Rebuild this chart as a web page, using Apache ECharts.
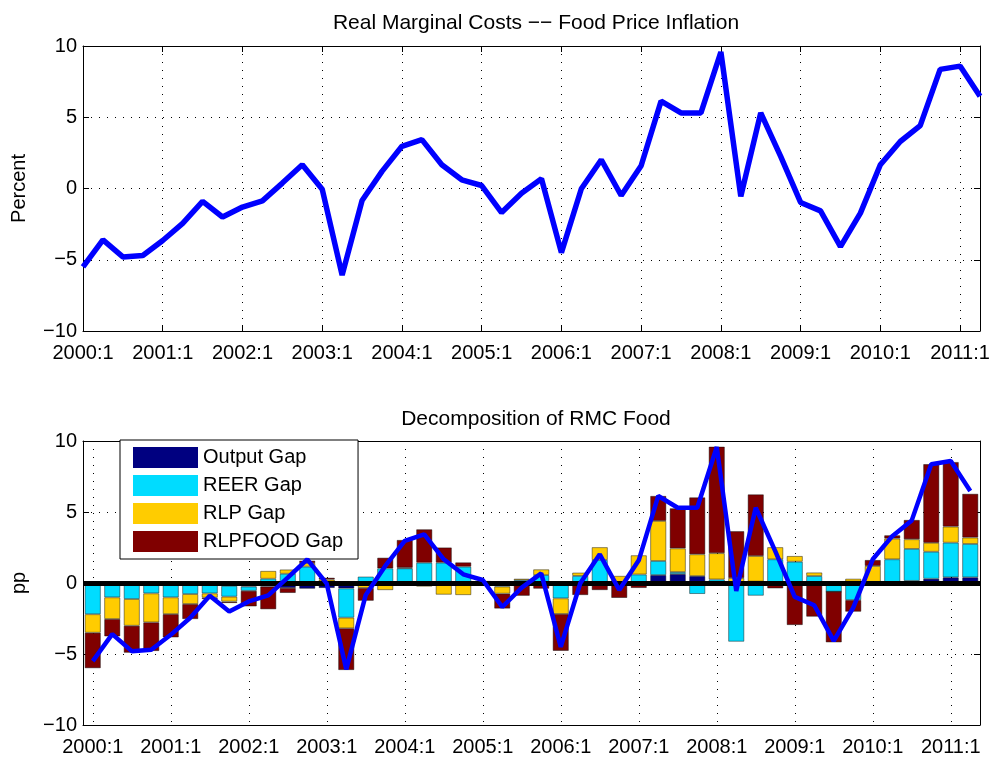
<!DOCTYPE html>
<html>
<head>
<meta charset="utf-8">
<script src="https://cdn.jsdelivr.net/npm/echarts@6/dist/echarts.min.js"></script>
<style>
  html, body { margin: 0; padding: 0; background: #fff; }
  #chart { width: 995px; height: 758px; }
</style>
</head>
<body>
<div id="chart"></div>
<script>
// quarters 2000:1 .. 2011:2
const quarters = [];
for (let y = 2000; y <= 2011; y++) {
  for (let q = 1; q <= 4; q++) quarters.push(y + ':' + q);
}
quarters.length = 46;

const yTicks = [-10, -5, 0, 5, 10];

const rmcFood = [-5.5, -3.6, -4.8, -4.7, -3.65, -2.45, -0.9, -2.0, -1.3, -0.87,
  0.38, 1.67, -0.05, -6.08, -0.84, 1.2, 2.96, 3.43, 1.67, 0.61,
  0.21, -1.69, -0.33, 0.68, -4.5, -0.02, 2.02, -0.49, 1.6, 6.13,
  5.3, 5.3, 9.58, -0.56, 5.3, 2.25, -0.98, -1.57, -4.08, -1.73,
  1.67, 3.3, 4.41, 8.36, 8.59, 6.48];

const outputGap = [-0.05, -0.05, -0.05, -0.05, -0.05, -0.05, -0.05, -0.2, -0.25, -0.25,
  -0.35, -0.4, -0.35, -0.38, -0.1, -0.05, -0.1, -0.05, -0.05, -0.05,
  0, -0.05, 0, 0, 0, 0, 0, 0, 0, 0.56,
  0.63, 0.49, 0.05, 0.05, 0.1, 0.05, 0, 0, 0, 0.1,
  0, 0.05, 0.15, 0.3, 0.4, 0.4];

const reerGap = [-2.15, -0.96, -1.08, -0.68, -0.96, -0.73, -0.68, -0.76, -0.3, 0.3,
  0.65, 1.15, 0.1, -2.06, 0.45, 1.03, 1.03, 1.43, 1.43, 1.15,
  0.05, -0.2, 0.2, 0.56, -1.08, 0.5, 1.62, 0.05, 0.6, 0.99,
  0.14, -0.77, 0.2, -4.13, -0.89, 1.62, 1.5, 0.49, -0.61, -1.2,
  0.05, 1.62, 2.25, 1.9, 2.44, 2.35];

const rlpGap = [-1.3, -1.53, -1.88, -2.04, -1.18, -0.7, -0.3, -0.35, 0.1, 0.55,
  0.3, 0.25, 0.15, -0.75, -0.25, -0.45, 0.05, -0.2, -0.77, -0.8,
  0, -0.5, 0.1, 0.4, -1.1, 0.23, 0.9, 0.45, 1.35, 2.82,
  1.67, 1.53, 1.85, 0.3, 1.8, 0.85, 0.4, 0.25, 0, 0.2,
  1.15, 1.46, 0.68, 0.63, 1.13, 0.45];

const rlpFoodGap = [-2.5, -1.22, -1.9, -2.02, -1.64, -1.06, -0.1, -0.1, -1.1, -1.6,
  -0.35, 0.17, 0.12, -2.94, -0.9, 0.75, 1.95, 2.35, 1.07, 0.3,
  0.1, -1.05, -0.9, -0.4, -2.6, -0.85, -0.5, -1.05, -0.35, 1.76,
  2.82, 4.01, 7.5, 3.3, 4.34, -0.38, -2.96, -2.37, -3.57, -0.82,
  0.42, 0.23, 1.36, 5.54, 4.55, 3.08];

const FONT = '"Liberation Sans", Arial, Helvetica, sans-serif';
const everyYear = (i) => i % 4 === 0;
const dotted = { color: '#000', width: 1, type: [1, 7] };

function xAxisPair(grid, gap) {
  return [{
    type: 'category', gridIndex: grid, data: quarters, boundaryGap: gap,
    axisLine: { onZero: false, lineStyle: { color: '#000', width: 1 } },
    axisTick: { inside: true, length: 6, interval: everyYear, alignWithLabel: true, lineStyle: { color: '#000' } },
    axisLabel: { interval: everyYear, color: '#000', fontSize: 20, fontFamily: FONT, margin: 12 },
    splitLine: { show: true, interval: everyYear, alignWithLabel: true, lineStyle: dotted }
  }, {
    type: 'category', gridIndex: grid, data: quarters, boundaryGap: gap, position: 'top',
    axisLine: { onZero: false, lineStyle: { color: '#000', width: 1 } },
    axisTick: { inside: true, length: 6, interval: everyYear, alignWithLabel: true, lineStyle: { color: '#000' } },
    axisLabel: { show: false },
    splitLine: { show: false }
  }];
}

function yAxisPair(grid, name) {
  return [{
    type: 'value', gridIndex: grid, min: yTicks[0], max: yTicks[yTicks.length - 1], interval: 5,
    name: name, nameLocation: 'middle', nameGap: 54,
    nameTextStyle: { color: '#000', fontSize: 20, fontFamily: FONT },
    axisLine: { show: true, onZero: false, lineStyle: { color: '#000', width: 1 } },
    axisTick: { show: true, inside: true, length: 6, lineStyle: { color: '#000' } },
    axisLabel: {
      color: '#000', fontSize: 20, fontFamily: FONT, margin: 6,
      formatter: (v) => String(v).replace('-', '\u2212')
    },
    splitLine: { show: true, lineStyle: dotted }
  }, {
    type: 'value', gridIndex: grid, min: yTicks[0], max: yTicks[yTicks.length - 1], interval: 5,
    position: 'right',
    axisLine: { show: true, onZero: false, lineStyle: { color: '#000', width: 1 } },
    axisTick: { show: true, inside: true, length: 6, lineStyle: { color: '#000' } },
    axisLabel: { show: false },
    splitLine: { show: false }
  }];
}

function barSeries(name, data, color) {
  return {
    name: name, type: 'bar', xAxisIndex: 2, yAxisIndex: 2, stack: 'decomp',
    data: data, barWidth: '82%',
    itemStyle: { color: color, borderColor: 'rgba(0,0,0,0.55)', borderWidth: 0.8 },
    z: 2
  };
}

const chart = echarts.init(document.getElementById('chart'));
chart.setOption({
  animation: false,
  backgroundColor: '#fff',
  title: [
    { text: 'Real Marginal Costs \u2212\u2212 Food Price Inflation', left: 531, top: 8, textAlign: 'center',
      textStyle: { color: '#000', fontSize: 21, fontWeight: 'normal', fontFamily: FONT } },
    { text: 'Decomposition of RMC Food', left: 531, top: 404, textAlign: 'center',
      textStyle: { color: '#000', fontSize: 21, fontWeight: 'normal', fontFamily: FONT } }
  ],
  legend: {
    data: ['Output Gap', 'REER Gap', 'RLP Gap', 'RLPFOOD Gap'],
    orient: 'vertical', left: 120, top: 440,
    padding: [7, 15, 7, 13], itemWidth: 65, itemHeight: 21, itemGap: 7,
    backgroundColor: '#fff', borderColor: '#000', borderWidth: 1, borderRadius: 0,
    icon: 'rect',
    itemStyle: { borderWidth: 0 },
    textStyle: { color: '#000', fontSize: 20, fontFamily: FONT }
  },
  grid: [
    { left: 83, right: 15, top: 46, height: 285 },
    { left: 83, right: 15, top: 441, height: 284 }
  ],
  xAxis: [...xAxisPair(0, false), ...xAxisPair(1, true)],
  yAxis: [...yAxisPair(0, 'Percent'), ...yAxisPair(1, 'pp')],
  series: [
    {
      name: 'RMC Food', type: 'line', xAxisIndex: 0, yAxisIndex: 0, data: rmcFood,
      symbol: 'none', lineStyle: { color: '#0000ff', width: 5.5 }
    },
    barSeries('Output Gap', outputGap, '#000080'),
    barSeries('REER Gap', reerGap, '#00dcff'),
    barSeries('RLP Gap', rlpGap, '#ffcc00'),
    barSeries('RLPFOOD Gap', rlpFoodGap, '#800000'),
    {
      name: 'zero', type: 'line', xAxisIndex: 2, yAxisIndex: 2, data: [],
      z: 4, silent: true,
      markLine: {
        symbol: 'none', silent: true, label: { show: false },
        lineStyle: { color: '#000', width: 5, type: 'solid' },
        data: [{ yAxis: 0 }]
      }
    },
    {
      name: 'RMC Food decomposed', type: 'line', xAxisIndex: 2, yAxisIndex: 2, data: rmcFood,
      symbol: 'none', z: 5, lineStyle: { color: '#0000ff', width: 4.5 }
    }
  ]
});
</script>
</body>
</html>
